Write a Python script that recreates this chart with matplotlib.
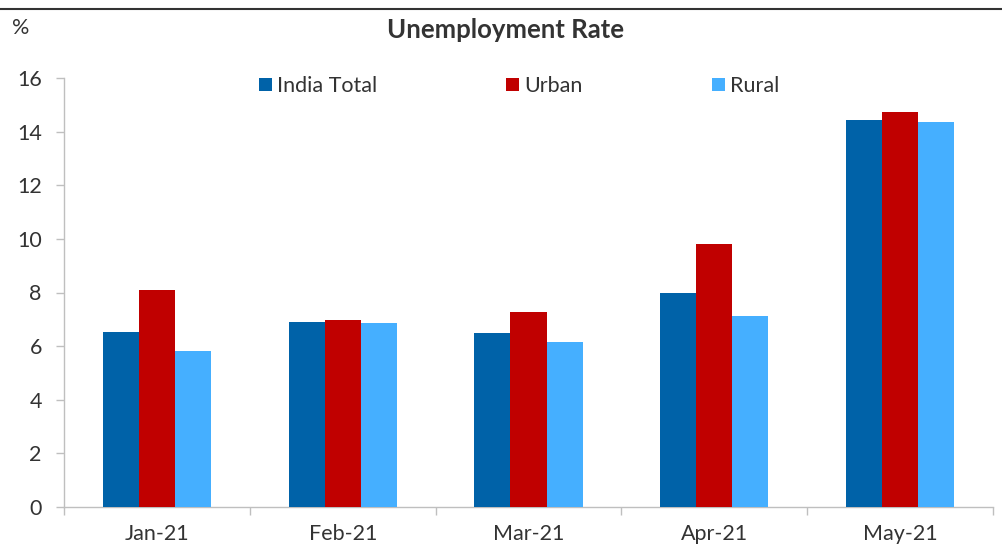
import matplotlib
matplotlib.use("Agg")
import matplotlib.pyplot as plt
import numpy as np
from matplotlib.lines import Line2D

months = ["Jan-21", "Feb-21", "Mar-21", "Apr-21", "May-21"]
india_total = [6.53, 6.90, 6.49, 7.98, 14.45]
urban = [8.09, 6.97, 7.27, 9.81, 14.73]
rural = [5.82, 6.86, 6.15, 7.13, 14.36]
series_names = ["India Total", "Urban", "Rural"]
colors = ["#0062A8", "#C00000", "#45AFFF"]

plt.rcParams['font.family'] = ['Lato', 'DejaVu Sans']

fig = plt.figure(figsize=(10.03, 5.47), dpi=100)
ax = fig.add_axes([64/1003, 1-507/547, (993-64)/1003, (507-78)/547])

x = np.arange(len(months))
w = 0.194
for i, (vals, name, c) in enumerate(zip([india_total, urban, rural], series_names, colors)):
    ax.bar(x + (i-1)*w, vals, width=w, color=c, label=name, zorder=3)

ax.set_xlim(-0.5, len(months)-0.5)
ax.set_ylim(0, 16)
ax.set_yticks(np.arange(0, 17, 2))
ax.set_xticks(x)
ax.set_xticklabels(months)
ax.set_xticks(np.arange(-0.5, len(months), 1), minor=True)
ax.tick_params(axis='x', which='major', length=0, pad=12, labelsize=15.5, labelcolor='#333333')
ax.tick_params(axis='x', which='minor', length=6, color='#bfbfbf', width=1)
ax.tick_params(axis='y', length=6, color='#bfbfbf', width=1, pad=10, labelsize=15.5, labelcolor='#333333')
for s in ['top', 'right']:
    ax.spines[s].set_visible(False)
for s in ['left', 'bottom']:
    ax.spines[s].set_color('#bfbfbf')
    ax.spines[s].set_linewidth(1)

leg = ax.legend(loc='center', bbox_to_anchor=(0.49, 1-(86-78)/429), ncol=3, frameon=False,
                fontsize=15.5, handlelength=0.6, handleheight=0.6, handletextpad=0.25,
                columnspacing=6.0, labelcolor='#333333')

fig.text(0.504, 1-30/547, "Unemployment Rate", ha='center', va='center', fontsize=18.5,
         fontweight='bold', color='#333333')
fig.text(12/1003, 1-28/547, "%", ha='left', va='center', fontsize=15.5, color='#333333')
fig.add_artist(Line2D([0, 1], [1-9/547, 1-9/547], color='#333333', linewidth=1.5,
                      transform=fig.transFigure))

fig.savefig("out.png", dpi=100)
